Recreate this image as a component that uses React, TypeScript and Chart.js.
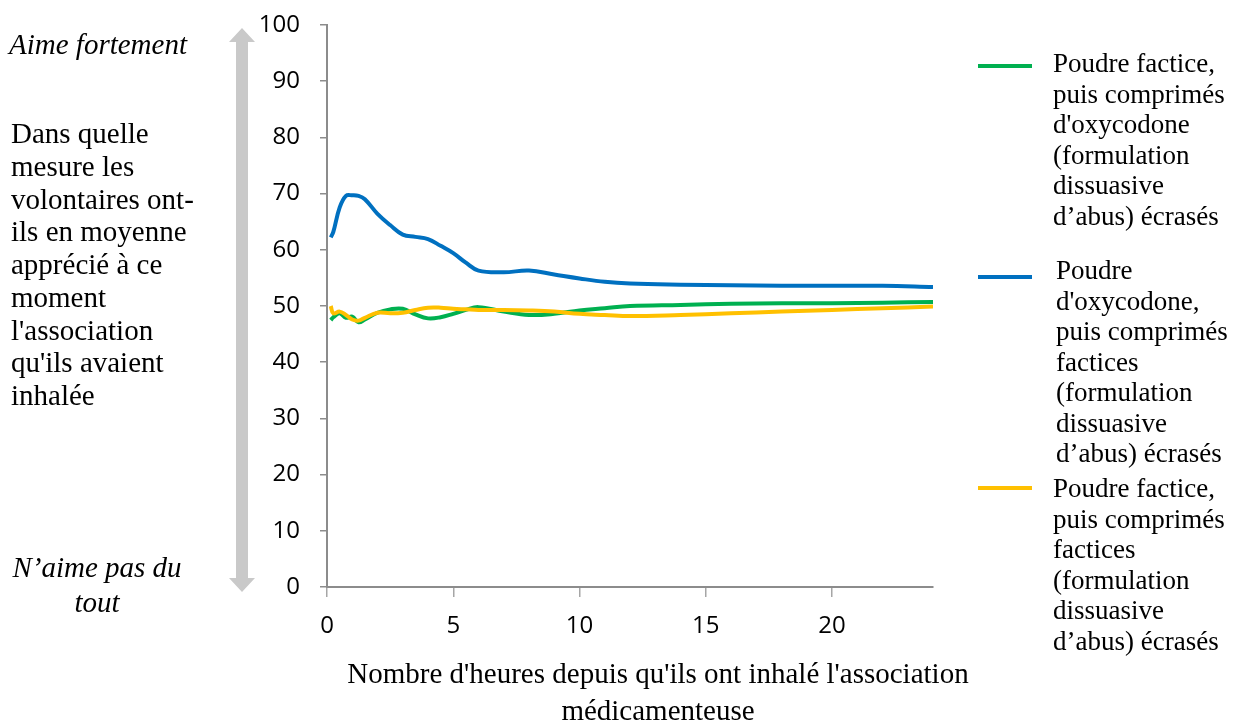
import React, { useEffect, useRef } from "react";
import { Chart, registerables } from "chart.js";

Chart.register(...registerables);

// Hours since inhalation
const hours = [0.15, 0.25, 0.5, 0.75, 1, 1.25, 1.5, 2, 2.5, 3, 3.5, 4, 4.5, 5, 5.5, 6, 7, 8, 9, 10, 11, 12, 14, 16, 18, 20, 22, 24];

// Poudre factice, puis comprimés d'oxycodone (green)
const placeboThenOxy = [47.5, 48.0, 48.7, 47.9, 48.1, 47.1, 47.6, 48.8, 49.4, 49.5, 48.5, 47.8, 48.0, 48.6, 49.3, 49.8, 49.0, 48.4, 48.6, 49.2, 49.6, 50.0, 50.2, 50.4, 50.5, 50.5, 50.6, 50.7];

// Poudre d'oxycodone, puis comprimés factices (blue)
const oxyThenPlacebo = [62.2, 63.2, 67.5, 69.6, 69.7, 69.6, 69.0, 66.4, 64.4, 62.7, 62.3, 61.9, 60.7, 59.4, 57.7, 56.3, 56.0, 56.3, 55.6, 54.9, 54.3, 54.0, 53.8, 53.7, 53.6, 53.6, 53.6, 53.4];

// Poudre factice, puis comprimés factices (yellow)
const placeboThenPlacebo = [50.0, 48.7, 49.0, 48.4, 47.6, 47.4, 47.9, 48.8, 48.7, 48.8, 49.3, 49.7, 49.7, 49.5, 49.4, 49.3, 49.3, 49.2, 49.0, 48.6, 48.4, 48.2, 48.4, 48.7, 49.0, 49.3, 49.6, 49.9];

const seriesColors = ["#00B050", "#0070C0", "#FFC000"];

const legendLines = [
  ["Poudre factice,", "puis comprimés", "d'oxycodone", "(formulation", "dissuasive", "d’abus) écrasés"],
  ["Poudre", "d'oxycodone,", "puis comprimés", "factices", "(formulation", "dissuasive", "d’abus) écrasés"],
  ["Poudre factice,", "puis comprimés", "factices", "(formulation", "dissuasive", "d’abus) écrasés"],
];

const yTitleLines = ["Dans quelle", "mesure les", "volontaires ont-", "ils en moyenne", "apprécié à ce", "moment", "l'association", "qu'ils avaient", "inhalée"];
const topLabel = "Aime fortement";
const bottomLabelLines = ["N’aime pas du", "tout"];
const xTitleLines = ["Nombre d'heures depuis qu'ils ont inhalé l'association", "médicamenteuse"];

const xTickValues = [0, 5, 10, 15, 20];
const yMin = 0;
const yMax = 100;
const xMin = 0;
const xMax = 24;

const SERIF = "'Liberation Serif', 'Times New Roman', serif";
const SANS = "'Open Sans', 'Liberation Sans', sans-serif";

const arrowPlugin = {
  id: "arrowPlugin",
  beforeDraw(chart: any) {
    const y = chart.scales.y;
    const ctx = chart.ctx;
    const cx = chart.chartArea.left - 85;
    const top = y.getPixelForValue(yMax) + 3;
    const bottom = y.getPixelForValue(yMin) + 5;
    const shaft = 6;
    const head = 13;
    const headH = 14;
    ctx.save();
    ctx.fillStyle = "#C9C9C9";
    ctx.beginPath();
    ctx.moveTo(cx, top);
    ctx.lineTo(cx + head, top + headH);
    ctx.lineTo(cx + shaft, top + headH);
    ctx.lineTo(cx + shaft, bottom - headH);
    ctx.lineTo(cx + head, bottom - headH);
    ctx.lineTo(cx, bottom);
    ctx.lineTo(cx - head, bottom - headH);
    ctx.lineTo(cx - shaft, bottom - headH);
    ctx.lineTo(cx - shaft, top + headH);
    ctx.lineTo(cx - head, top + headH);
    ctx.closePath();
    ctx.fill();
    ctx.restore();
  },
};

export default function App() {
  const canvasRef = useRef<HTMLCanvasElement | null>(null);

  useEffect(() => {
    if (!canvasRef.current) return;
    const mk = (vals: number[]) => hours.map((h, i) => ({ x: h, y: vals[i] }));
    const chart = new Chart(canvasRef.current, {
      type: "line",
      data: {
        datasets: [
          { label: legendLines[0].join(" "), data: mk(placeboThenOxy), borderColor: seriesColors[0], backgroundColor: seriesColors[0], order: 2 },
          { label: legendLines[1].join(" "), data: mk(oxyThenPlacebo), borderColor: seriesColors[1], backgroundColor: seriesColors[1], order: 1 },
          { label: legendLines[2].join(" "), data: mk(placeboThenPlacebo), borderColor: seriesColors[2], backgroundColor: seriesColors[2], order: 0 },
        ].map((d) => ({ ...d, borderWidth: 4, pointRadius: 0, tension: 0.4, fill: false })),
      },
      options: {
        responsive: false,
        animation: false,
        events: [],
        layout: { padding: { left: 0, right: 303, top: 25, bottom: 0 } },
        plugins: { legend: { display: false }, tooltip: { enabled: false } },
        scales: {
          x: {
            type: "linear",
            min: xMin,
            max: xMax,
            afterBuildTicks: (scale: any) => {
              scale.ticks = xTickValues.map((v) => ({ value: v }));
            },
            afterFit: (scale: any) => {
              scale.height = 135;
              scale.paddingLeft = 0;
              scale.paddingRight = 0;
            },
            grid: { display: true, drawOnChartArea: false, drawTicks: true, tickLength: 10, color: "#A6A6A6", lineWidth: 1.5 },
            border: { display: true, color: "#8C8C8C", width: 2 },
            ticks: { color: "#000", font: { family: SANS, size: 24 }, padding: 15, maxRotation: 0 },
          },
          y: {
            min: yMin,
            max: yMax,
            afterFit: (scale: any) => {
              scale.width = 327;
              scale.paddingTop = 0;
              scale.paddingBottom = 0;
            },
            grid: { display: true, drawOnChartArea: false, drawTicks: true, tickLength: 7, color: "#8C8C8C", lineWidth: 1.5 },
            border: { display: true, color: "#8C8C8C", width: 2 },
            ticks: { stepSize: 10, color: "#000", font: { family: SANS, size: 24 }, padding: 20 },
          },
        },
      },
      plugins: [arrowPlugin],
    } as any);
    return () => chart.destroy();
  }, []);

  const legendPos = [
    { top: 48, left: 1053, lineY: 66 },
    { top: 255, left: 1056, lineY: 277 },
    { top: 473, left: 1053, lineY: 488 },
  ];

  return (
    <div style={{ position: "fixed", left: 0, top: 0, width: 1236, height: 722, background: "#fff", overflow: "hidden" }}>
      <canvas ref={canvasRef} width={1236} height={722} style={{ position: "absolute", left: 0, top: 0, width: 1236, height: 722 }} />
      <div style={{ position: "absolute", left: 0, width: 196, top: 27, textAlign: "center", fontFamily: SERIF, fontStyle: "italic", fontSize: 29, lineHeight: "34px", color: "#000" }}>
        {topLabel}
      </div>
      <div style={{ position: "absolute", left: 11, top: 117, fontFamily: SERIF, fontSize: 29, lineHeight: "32.75px", color: "#000", whiteSpace: "nowrap" }}>
        {yTitleLines.map((l, i) => (
          <div key={i}>{l}</div>
        ))}
      </div>
      <div style={{ position: "absolute", left: 0, width: 194, top: 550, textAlign: "center", fontFamily: SERIF, fontStyle: "italic", fontSize: 29, lineHeight: "35px", color: "#000" }}>
        {bottomLabelLines.map((l, i) => (
          <div key={i}>{l}</div>
        ))}
      </div>
      <div style={{ position: "absolute", left: 300, width: 716, top: 655, textAlign: "center", fontFamily: SERIF, fontSize: 29, lineHeight: "37px", color: "#000", whiteSpace: "nowrap" }}>
        {xTitleLines.map((l, i) => (
          <div key={i}>{l}</div>
        ))}
      </div>
      {legendLines.map((lines, k) => (
        <React.Fragment key={k}>
          <div style={{ position: "absolute", left: 978, top: legendPos[k].lineY - 2, width: 54, height: 4, background: seriesColors[k] }} />
          <div style={{ position: "absolute", left: legendPos[k].left, top: legendPos[k].top, fontFamily: SERIF, fontSize: 27, lineHeight: "30.5px", color: "#000", whiteSpace: "nowrap" }}>
            {lines.map((l, i) => (
              <div key={i}>{l}</div>
            ))}
          </div>
        </React.Fragment>
      ))}
    </div>
  );
}
